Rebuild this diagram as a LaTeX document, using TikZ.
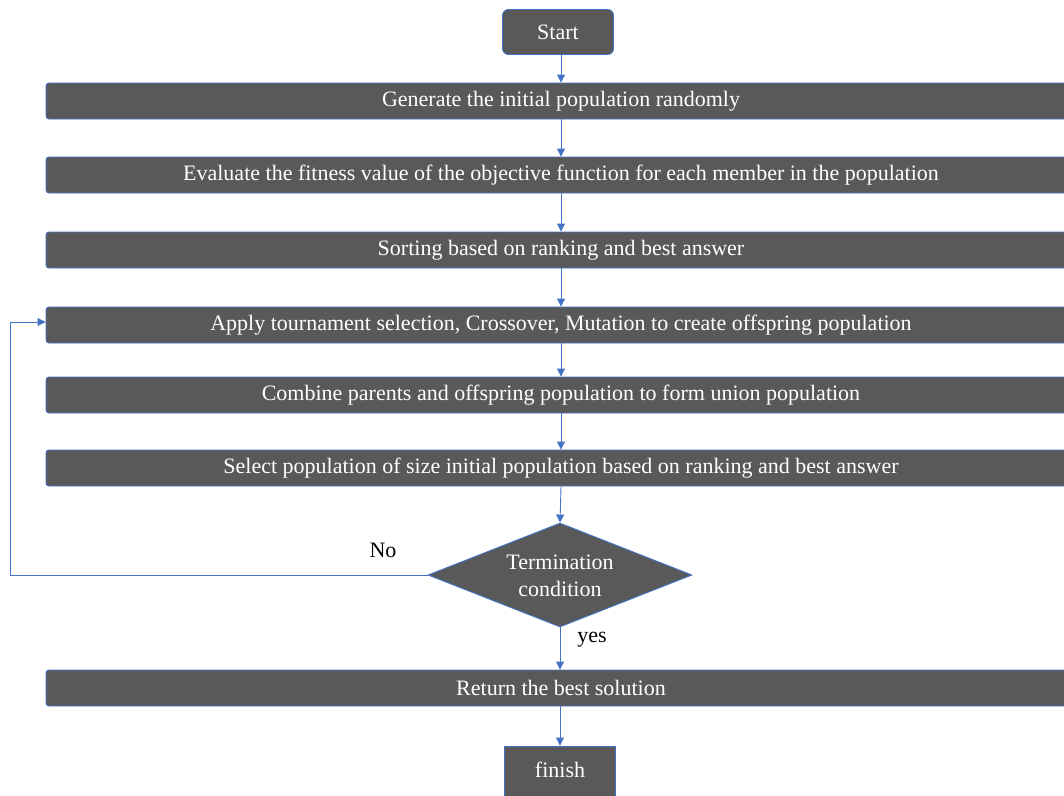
\documentclass[tikz,border=0pt]{standalone}
\usepackage{fontspec}
\setmainfont{Liberation Serif}
\usetikzlibrary{shapes.geometric,arrows.meta}
\definecolor{boxfill}{HTML}{595959}
\definecolor{edgeblue}{HTML}{4472C4}
\begin{document}
\begin{tikzpicture}[x=1pt,y=-1pt,
  box/.style={draw=edgeblue,line width=0.9pt,fill=boxfill,text=white,font=\fontsize{22}{26}\selectfont,inner sep=0pt},
  bar/.style={box,rounded corners=3pt,minimum width=1030pt,minimum height=36pt},
  term/.style={box,minimum width=111pt,minimum height=45pt},
  cond/.style={box,diamond,minimum width=264pt,minimum height=104pt,align=center,aspect=2.54},
  arr/.style={draw=edgeblue,line width=0.9pt,-{Triangle[width=8pt,length=8pt]}},
  lbl/.style={font=\fontsize{22}{26}\selectfont,text=black}]
\useasboundingbox (0,0) rectangle (1064,795);
\clip (0,0) rectangle (1064,795);
\node[term,rounded corners=6pt] (start) at (558,32) {Start};
\node[bar] (b1) at (561,101) {Generate the initial population randomly};
\node[bar] (b2) at (561,175) {Evaluate the fitness value of the objective function for each member in the population};
\node[bar] (b3) at (561,250) {Sorting based on ranking and best answer};
\node[bar] (b4) at (561,325) {Apply tournament selection, Crossover, Mutation to create offspring population};
\node[bar] (b5) at (561,395) {Combine parents and offspring population to form union population};
\node[bar] (b6) at (561,468) {Select population of size initial population based on ranking and best answer};
\node[box,cond] (c) at (560,575) {};
\node[text=white,font=\fontsize{22}{27}\selectfont,align=center] (ct) at (560,576) {Termination\\condition};
\node[bar] (b7) at (561,688) {Return the best solution};
\node[term,minimum height=52pt] (fin) at (560,772) {};
\node[text=white,font=\fontsize{22}{26}\selectfont] (fint) at (560,770) {finish};
\coordinate (lp1) at (10,575);
\coordinate (lp2) at (10,322);
\draw[arr] (start.south -| 561,0) -- (b1.north -| 561,0);
\draw[arr] (b1) ++(0,18) -- (b2.north -| 561,0);
\draw[arr] (b2.south -| 561,0) -- (b3.north -| 561,0);
\draw[arr] (b3.south -| 561,0) -- (b4.north -| 561,0);
\draw[arr] (b4.south -| 561,0) -- (b5.north -| 561,0);
\draw[arr] (b5.south -| 561,0) -- (b6.north -| 561,0);
\draw[arr] (b6.south -| 561,0) -- (c.north);
\draw[arr] (c.south) -- (b7.north -| 560,0);
\draw[arr] (b7.south -| 560,0) -- (fin.north);
\draw[arr] (c.west) -- (lp1) -- (lp2) -- (b4.west |- lp2);
\node[lbl] (no) at (383,550) {No};
\node[lbl] (yes) at (592,640) {yes};
\end{tikzpicture}
\end{document}
